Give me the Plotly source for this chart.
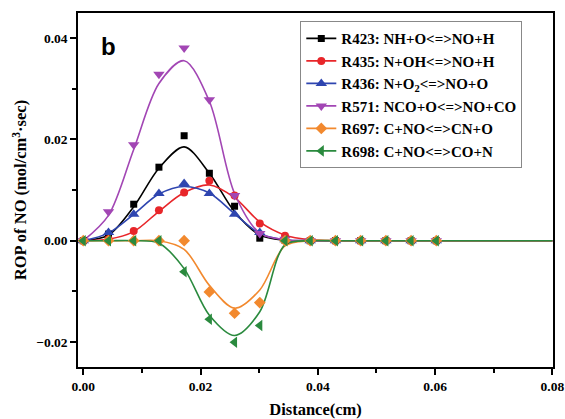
import plotly.graph_objects as go

# ---- data ----
distance = [0.0, 0.0043, 0.0086, 0.0129, 0.0172, 0.0215, 0.0258, 0.0301,
            0.0344, 0.0387, 0.0430, 0.0473, 0.0516, 0.0559, 0.0602]
curve_x = distance + [0.08]

names = ["R423: NH+O<=>NO+H", "R435: N+OH<=>NO+H", "R436: N+O<sub>2</sub><=>NO+O",
         "R571: NCO+O<=>NO+CO", "R697: C+NO<=>CN+O", "R698: C+NO<=>CO+N"]

# marker (computed points)
r423_pts = [0, 0.0013, 0.0072, 0.0145, 0.0207, 0.0133, 0.0068, 0.0005, 0.0001, 0, 0, 0, 0, 0, 0]
r435_pts = [0, 0.0003, 0.0019, 0.0060, 0.0095, 0.0118, 0.0089, 0.0034, 0.0010, 0.0001, 0, 0, 0, 0, 0]
r436_pts = [0, 0.0016, 0.0052, 0.0093, 0.0113, 0.0093, 0.0052, 0.0016, 0.0002, 0, 0, 0, 0, 0, 0]
r571_pts = [0, 0.0057, 0.0189, 0.0328, 0.0380, 0.0278, 0.0089, 0.0014, 0.0003, 0, 0, 0, 0, 0, 0]
r697_pts = [0, 0, 0, 0, 0, -0.0101, -0.0143, -0.0122, 0, 0, 0, 0, 0, 0, 0]
r698_pts = [0, 0, 0, 0, -0.0061, -0.0155, -0.0200, -0.0167, 0, 0, 0, 0, 0, 0, 0]

# smooth fitted curves
r423_fit = [0, 0.0011, 0.0067, 0.0143, 0.0185, 0.0133, 0.0057, 0.0011, 0.0001, 0, 0, 0, 0, 0, 0, 0]
r435_fit = [0, 0.0003, 0.0018, 0.0058, 0.0095, 0.0110, 0.0085, 0.0037, 0.0011, 0.0002, 0, 0, 0, 0, 0, 0]
r436_fit = [0, 0.0015, 0.0052, 0.0092, 0.0107, 0.0094, 0.0053, 0.0014, 0.0002, 0, 0, 0, 0, 0, 0, 0]
r571_fit = [0, 0.0050, 0.0180, 0.0310, 0.0355, 0.0275, 0.0093, 0.0015, 0.0002, 0, 0, 0, 0, 0, 0, 0]
r697_fit = [0, 0, 0, 0, -0.0017, -0.0088, -0.0133, -0.0097, -0.0010, 0, 0, 0, 0, 0, 0, 0]
r698_fit = [0, 0, 0, -0.0005, -0.0055, -0.0147, -0.0187, -0.0140, -0.0008, 0, 0, 0, 0, 0, 0, 0]

pts = [r423_pts, r435_pts, r436_pts, r571_pts, r697_pts, r698_pts]
fits = [r423_fit, r435_fit, r436_fit, r571_fit, r697_fit, r698_fit]

colors = ["#000000", "#E8262A", "#2E45B0", "#A246B4", "#F2892E", "#2A8A3E"]
symbols = ["square", "circle", "triangle-up", "triangle-down", "diamond", "triangle-left"]
msizes = [7, 8, 10, 10, 9, 10]

serif = "Times New Roman, Liberation Serif, DejaVu Serif, serif"

fig = go.Figure()
# fitted curves
for i in range(6):
    fig.add_trace(go.Scatter(
        x=curve_x, y=fits[i], mode="lines",
        line=dict(color=colors[i], width=1.6, shape="spline", smoothing=0.9),
        showlegend=False, hoverinfo="skip"))
# computed points
for i in range(6):
    fig.add_trace(go.Scatter(
        x=distance, y=pts[i], mode="markers", name=names[i],
        marker=dict(symbol=symbols[i], size=msizes[i], color=colors[i]),
        showlegend=False))
# legend entries (line + marker sample)
for i in range(6):
    fig.add_trace(go.Scatter(
        x=[None], y=[None], mode="lines+markers", name=names[i],
        line=dict(color=colors[i], width=1.6),
        marker=dict(symbol=symbols[i], size=msizes[i], color=colors[i]),
        showlegend=True))

axis_common = dict(
    showline=True, linecolor="black", linewidth=1.5, mirror=True,
    ticks="outside", ticklen=6, tickwidth=1.5, tickcolor="black",
    showgrid=False, zeroline=False, automargin=False,
    tickfont=dict(family=serif, size=13.5, color="black", weight="bold"),
    minor=dict(ticks="outside", ticklen=4, tickwidth=1.5, tickcolor="black", dtick=0.01),
)

fig.update_xaxes(range=[-0.0009, 0.0801], dtick=0.02, tick0=0, tickformat=".2f",
                 title=dict(text="Distance(cm)", standoff=21,
                            font=dict(family=serif, size=16.5, color="black", weight="bold")),
                 **axis_common)
fig.update_yaxes(range=[-0.0249, 0.0449], dtick=0.02, tick0=0, tickformat=".2f",
                 title=dict(text="ROP of NO (mol/cm<sup>3</sup>·sec)", standoff=5,
                            font=dict(family=serif, size=16.5, color="black", weight="bold")),
                 **axis_common)

fig.update_layout(
    width=565, height=419,
    margin=dict(l=78, r=12, t=13, b=52),
    paper_bgcolor="white", plot_bgcolor="white",
    showlegend=True,
    legend=dict(x=0.468, y=0.977, xanchor="left", yanchor="top",
                bgcolor="white", bordercolor="#888888", borderwidth=1,
                font=dict(family=serif, size=15, color="black", weight="bold"),
                tracegroupgap=0),
    annotations=[dict(text="b", x=0.065, y=0.904, xref="paper", yref="paper",
                      showarrow=False, xanchor="center", yanchor="middle",
                      font=dict(family="Liberation Sans, Arial, sans-serif", size=24,
                                color="black", weight="bold"))],
)

fig.write_html("out.html", config={"displayModeBar": False},
               post_script="document.body.style.margin='0';")
